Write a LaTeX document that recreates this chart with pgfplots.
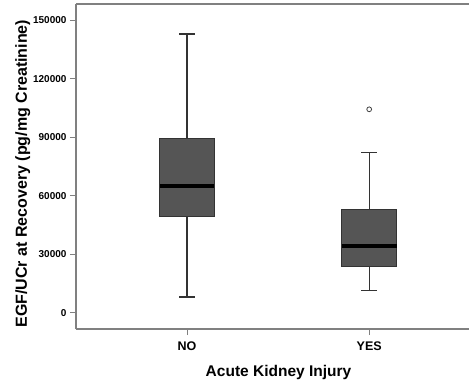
\documentclass[border=0pt]{standalone}
\usepackage{pgfplots}
\pgfplotsset{compat=1.18}
\usepackage{fontspec}
\setmainfont{Liberation Sans}
\definecolor{boxfill}{RGB}{85,85,85}
\definecolor{axgray}{RGB}{128,128,128}
\begin{document}
\begin{tikzpicture}
\path[use as bounding box] (-76pt,-54pt) rectangle (393pt,329pt);
\begin{axis}[
  at={(0,0)}, anchor=south west,
  width=393pt, height=325pt, scale only axis,
  xmin=0.39, xmax=2.548,
  ymin=-8360, ymax=158300,
  axis x line=bottom, axis y line=left,
  axis line style={axgray, line width=1.2pt, -},
  xtick={1,2}, xticklabels={NO,YES},
  ytick={0,30000,60000,90000,120000,150000},
  scaled y ticks=false,
  /pgf/number format/assume math mode=true,
  yticklabel style={/pgf/number format/fixed, /pgf/number format/1000 sep={}, font=\bfseries\fontsize{10}{10}\selectfont},
  xticklabel style={font=\bfseries\fontsize{12.5}{12.5}\selectfont, yshift=-3pt},
  tick style={axgray, line width=1pt},
  tick align=outside, major tick length=6pt,
  xlabel={Acute Kidney Injury},
  ylabel={EGF/UCr at Recovery (pg/mg Creatinine)},
  xlabel style={font=\bfseries\fontsize{15.5}{15.5}\selectfont, yshift=-8pt, xshift=6pt},
  ylabel style={font=\bfseries\fontsize{16}{16}\selectfont, at={(ticklabel cs:0.478)}, yshift=-4pt},
  clip=false,
]
% --- NO ---
\addplot[black!80, line width=1.4pt] coordinates {(1,8050) (1,142900)};
\addplot[black!80, line width=1.4pt] coordinates {(0.956,8050) (1.044,8050)};
\addplot[black!80, line width=1.4pt] coordinates {(0.956,142900) (1.044,142900)};
\addplot[fill=boxfill, draw=black!80, line width=0.9pt] coordinates {(0.85,49590) (1.15,49590) (1.15,89440) (0.85,89440)} -- cycle;
\addplot[black, line width=3.8pt] coordinates {(0.85,64970) (1.15,64970)};
% --- YES ---
\addplot[black!80, line width=1.4pt] coordinates {(2,11280) (2,82050)};
\addplot[black!80, line width=1.4pt] coordinates {(1.956,11280) (2.044,11280)};
\addplot[black!80, line width=1.4pt] coordinates {(1.956,82050) (2.044,82050)};
\addplot[fill=boxfill, draw=black!80, line width=0.9pt] coordinates {(1.85,23590) (2.15,23590) (2.15,53030) (1.85,53030)} -- cycle;
\addplot[black, line width=3.8pt] coordinates {(1.85,34360) (2.15,34360)};
\addplot[only marks, mark=o, mark size=2.4pt, mark options={black!75, line width=0.8pt}] coordinates {(2,104300)};
\end{axis}
\draw[axgray, line width=1.2pt] (0,325pt) -- (393pt,325pt);
\end{tikzpicture}
\end{document}
